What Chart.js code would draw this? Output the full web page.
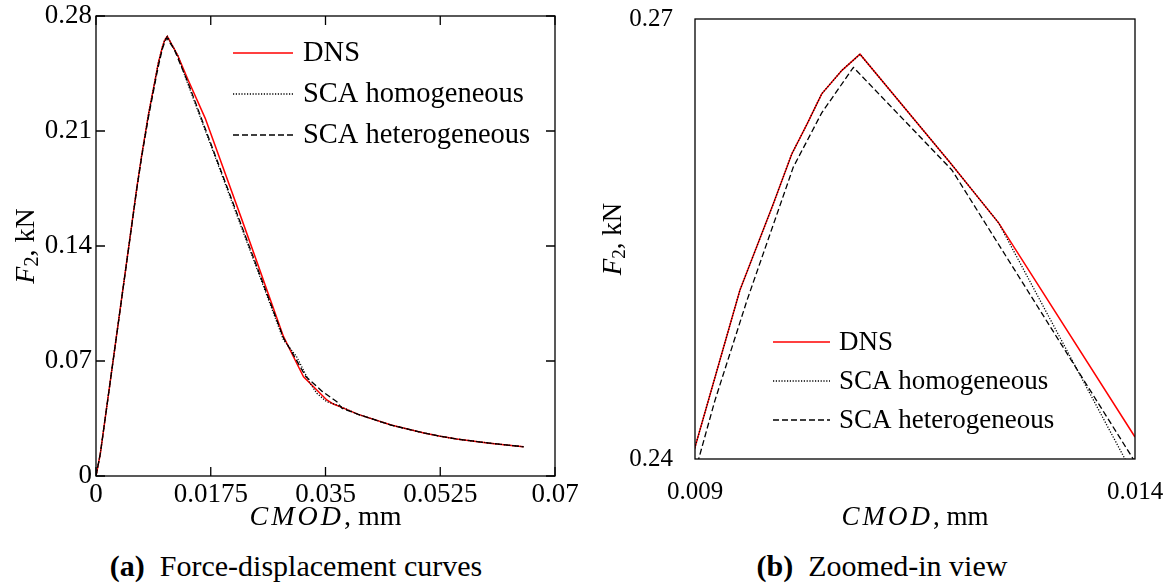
<!DOCTYPE html>
<html>
<head>
<meta charset="utf-8">
<script src="https://cdn.jsdelivr.net/npm/chart.js@4.4.0/dist/chart.umd.min.js"></script>
<style>
body { margin: 0; background: #fff; }
#wrap { position: relative; width: 1175px; height: 587px; font-family: "Liberation Serif", "Times New Roman", serif; color: #000; }
#chartA { position: absolute; left: 0; top: 0; }
#chartB { position: absolute; left: 587px; top: 0; }
.caption { position: absolute; top: 549px; font-size: 30px; white-space: nowrap; transform: translateX(-50%); }
</style>
</head>
<body>
<div id="wrap">
  <canvas id="chartA" width="587" height="540"></canvas>
  <canvas id="chartB" width="588" height="540"></canvas>
  <div class="caption" style="left:296px"><b>(a)</b>&nbsp; Force-displacement curves</div>
  <div class="caption" style="left:882px"><b>(b)</b>&nbsp; Zoomed-in view</div>
</div>
<script>
// series labels
const seriesLabels = ["DNS", "SCA homogeneous", "SCA heterogeneous"];

// DNS (CMOD in mm, force in kN)
const dnsX = [0, 0.00066, 0.00625, 0.0070, 0.0080, 0.0090, 0.00951, 0.00989, 0.01010, 0.01027, 0.01044, 0.01067, 0.010875, 0.01190, 0.01245, 0.0140, 0.01666, 0.02226, 0.0286, 0.0300, 0.03165, 0.0352, 0.0362, 0.0372, 0.0400, 0.0450, 0.0500, 0.0525, 0.0550, 0.0600, 0.0652];
const dnsY = [0, 0.0136, 0.1761, 0.1960, 0.2200, 0.2408, 0.2515, 0.2574, 0.2608, 0.2628, 0.2649, 0.2665, 0.2676, 0.2602, 0.2561, 0.2415, 0.2177, 0.1559, 0.0848, 0.0735, 0.0604, 0.0463, 0.0438, 0.0422, 0.0375, 0.0310, 0.0262, 0.0242, 0.0225, 0.0200, 0.0178];

// SCA homogeneous
const homX = [0, 0.00066, 0.00625, 0.0070, 0.0080, 0.0090, 0.00951, 0.00989, 0.01010, 0.01027, 0.01044, 0.01067, 0.010875, 0.01190, 0.01245, 0.013886, 0.0286, 0.0306, 0.03138, 0.03265, 0.03368, 0.0352, 0.03674, 0.0400, 0.0450, 0.0500, 0.0525, 0.0550, 0.0600, 0.0652];
const homY = [0, 0.0136, 0.1761, 0.1960, 0.2200, 0.2408, 0.2515, 0.2574, 0.2608, 0.2628, 0.2649, 0.2665, 0.2676, 0.2602, 0.2561, 0.2400, 0.0828, 0.0726, 0.0665, 0.0564, 0.0503, 0.0452, 0.0432, 0.0375, 0.0310, 0.0262, 0.0242, 0.0225, 0.0200, 0.0178];

// SCA heterogeneous
const hetX = [0, 0.00066, 0.00625, 0.0070, 0.0080, 0.0090, 0.009227, 0.00959, 0.010117, 0.01044, 0.0108, 0.01192, 0.01398, 0.0286, 0.0300, 0.0320, 0.0345, 0.03674, 0.0375, 0.0400, 0.0450, 0.0500, 0.0525, 0.0550, 0.0600, 0.0652];
const hetY = [0, 0.0136, 0.1755, 0.1950, 0.2185, 0.2391, 0.2440, 0.2508, 0.2599, 0.2636, 0.2667, 0.2597, 0.2400, 0.0840, 0.0745, 0.0605, 0.0515, 0.0452, 0.0412, 0.0375, 0.0310, 0.0262, 0.0242, 0.0225, 0.0200, 0.0178];

// ticks, panel (a)
const xTicksA = [0, 0.0175, 0.035, 0.0525, 0.07];
const xTickLabelsA = ["0", "0.0175", "0.035", "0.0525", "0.07"];
const yTicksA = [0, 0.07, 0.14, 0.21, 0.28];
const yTickLabelsA = ["0", "0.07", "0.14", "0.21", "0.28"];

// ticks, panel (b)
const xTicksB = [0.009, 0.014];
const xTickLabelsB = ["0.009", "0.014"];
const yTicksB = [0.24, 0.27];
const yTickLabelsB = ["0.24", "0.27"];

const FONT = '"Liberation Serif", "Times New Roman", serif';

function toPoints(xs, ys) {
    return xs.map((x, i) => ({ x: x, y: ys[i] }));
}

function makeDatasets() {
    return [
        { label: seriesLabels[0], data: toPoints(dnsX, dnsY), borderColor: "#ff0000", borderWidth: 1.5, order: 2 },
        { label: seriesLabels[1], data: toPoints(homX, homY), borderColor: "#000", borderWidth: 1.3, borderDash: [1.2, 1.6], order: 1 },
        { label: seriesLabels[2], data: toPoints(hetX, hetY), borderColor: "#000", borderWidth: 1.3, borderDash: [6, 3], order: 0 }
    ];
}

// draws a row of text pieces with different fonts, centred on x
function drawRuns(ctx, runs, x, y) {
    let total = 0;
    runs.forEach(r => {
        ctx.font = r.font;
        total += ctx.measureText(r.text).width + (r.letter || 0) * r.text.length;
    });
    let cx = x - total / 2;
    runs.forEach(r => {
        ctx.font = r.font;
        if (r.letter) {
            for (const ch of r.text) {
                ctx.fillText(ch, cx, y + (r.dy || 0));
                cx += ctx.measureText(ch).width + r.letter;
            }
        } else {
            ctx.fillText(r.text, cx, y + (r.dy || 0));
            cx += ctx.measureText(r.text).width;
        }
    });
}

const framePlugin = {
    id: "frame",
    afterDatasetsDraw(chart, args, opts) {
        const ctx = chart.ctx;
        const a = chart.chartArea;
        ctx.save();
        ctx.strokeStyle = "#000";
        ctx.lineWidth = 1.3;
        ctx.setLineDash([]);
        ctx.strokeRect(a.left, a.top, a.right - a.left, a.bottom - a.top);
        if (opts.tickLen) {
            const t = opts.tickLen;
            ctx.beginPath();
            chart.scales.x.ticks.forEach(tk => {
                const px = chart.scales.x.getPixelForValue(tk.value);
                ctx.moveTo(px, a.bottom); ctx.lineTo(px, a.bottom - t);
                ctx.moveTo(px, a.top); ctx.lineTo(px, a.top + t);
            });
            chart.scales.y.ticks.forEach(tk => {
                const py = chart.scales.y.getPixelForValue(tk.value);
                ctx.moveTo(a.left, py); ctx.lineTo(a.left + t, py);
                ctx.moveTo(a.right, py); ctx.lineTo(a.right - t, py);
            });
            ctx.stroke();
        }
        ctx.restore();
    },
    afterDraw(chart, args, opts) {
        const ctx = chart.ctx;
        const a = chart.chartArea;
        const size = opts.titleSize;
        ctx.save();
        ctx.fillStyle = "#000";
        ctx.textBaseline = "middle";
        drawRuns(ctx, [
            { text: "CMOD", font: "italic " + size + "px " + FONT, letter: 3 },
            { text: ", mm", font: size + "px " + FONT }
        ], (a.left + a.right) / 2, opts.xTitleY);
        ctx.translate(opts.yTitleX, (a.top + a.bottom) / 2);
        ctx.rotate(-Math.PI / 2);
        drawRuns(ctx, [
            { text: "F", font: "italic " + size + "px " + FONT },
            { text: "2", font: Math.round(size * 0.7) + "px " + FONT, dy: 6 },
            { text: ", kN", font: size + "px " + FONT }
        ], 0, 0);
        ctx.restore();

        // legend inside the plot
        const lg = opts.legend;
        ctx.save();
        ctx.textBaseline = "middle";
        ctx.font = lg.size + "px " + FONT;
        chart.data.datasets.forEach((ds, i) => {
            const y = lg.y + i * lg.rowH;
            ctx.strokeStyle = ds.borderColor;
            ctx.lineWidth = ds.borderWidth;
            ctx.setLineDash(ds.borderDash || []);
            ctx.beginPath();
            ctx.moveTo(lg.x, y);
            ctx.lineTo(lg.x + lg.lineLen, y);
            ctx.stroke();
            ctx.fillStyle = "#000";
            ctx.fillText(ds.label, lg.textX, y + 1);
        });
        ctx.restore();
    }
};

function noPad(s) {
    s.paddingTop = 0; s.paddingBottom = 0; s.paddingLeft = 0; s.paddingRight = 0;
}

function createChart(canvasId, cfg) {
    const ctx = document.getElementById(canvasId);
    return new Chart(ctx, {
        type: "line",
        data: { datasets: makeDatasets() },
        plugins: [framePlugin],
        options: {
            responsive: false,
            animation: false,
            devicePixelRatio: 1,
            elements: { point: { radius: 0 }, line: { tension: 0 } },
            layout: { padding: cfg.padding },
            plugins: {
                legend: { display: false },
                tooltip: { enabled: false },
                frame: cfg.frame
            },
            scales: {
                x: {
                    type: "linear",
                    min: cfg.xMin, max: cfg.xMax,
                    afterBuildTicks: s => { s.ticks = cfg.xTicks.map(v => ({ value: v })); },
                    afterFit: s => { s.height = cfg.xHeight; noPad(s); },
                    grid: { display: false, drawTicks: false },
                    border: { display: false },
                    ticks: {
                        autoSkip: false, maxRotation: 0, color: "#000", padding: cfg.xPad,
                        font: { family: FONT, size: cfg.tickSize },
                        callback: (v, i) => cfg.xLabels[i]
                    }
                },
                y: {
                    min: cfg.yMin, max: cfg.yMax,
                    afterBuildTicks: s => { s.ticks = cfg.yTicks.map(v => ({ value: v })); },
                    afterFit: s => { s.width = cfg.yWidth; noPad(s); },
                    grid: { display: false, drawTicks: false },
                    border: { display: false },
                    ticks: {
                        autoSkip: false, color: "#000", padding: cfg.yPad,
                        font: { family: FONT, size: cfg.tickSize },
                        callback: (v, i) => cfg.yLabels[i]
                    }
                }
            }
        }
    });
}

createChart("chartA", {
    xMin: 0, xMax: 0.07, yMin: 0, yMax: 0.28,
    xTicks: xTicksA, xLabels: xTickLabelsA, yTicks: yTicksA, yLabels: yTickLabelsA,
    padding: { left: 0, right: 32, top: 16, bottom: 0 },
    xHeight: 64, yWidth: 96, xPad: 3, yPad: 4, tickSize: 27,
    frame: {
        tickLen: 9, titleSize: 28, xTitleY: 518, yTitleX: 27,
        legend: { x: 233, lineLen: 60, textX: 303, y: 53, rowH: 41, size: 28.5 }
    }
});

createChart("chartB", {
    xMin: 0.009, xMax: 0.014, yMin: 0.24, yMax: 0.27,
    xTicks: xTicksB, xLabels: xTickLabelsB, yTicks: yTicksB, yLabels: yTickLabelsB,
    padding: { left: 0, right: 40, top: 19, bottom: 0 },
    xHeight: 81, yWidth: 108, xPad: 18, yPad: 22, tickSize: 25,
    frame: {
        tickLen: 0, titleSize: 27, xTitleY: 518, yTitleX: 27,
        legend: { x: 186, lineLen: 57, textX: 252, y: 342, rowH: 39, size: 27 }
    }
});
</script>
</body>
</html>
